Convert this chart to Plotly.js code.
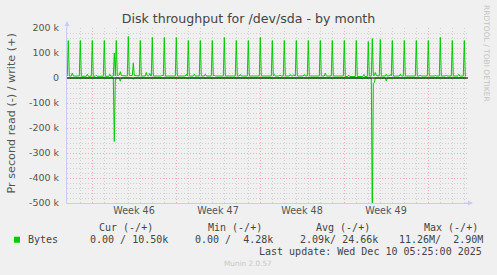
<!DOCTYPE html>
<html>
<head>
<meta charset="utf-8">
<script src="https://cdn.plot.ly/plotly-3.0.1.min.js"></script>
<style>
html,body{margin:0;padding:0;background:#F0F0F0;}
#chart{width:497px;height:275px;}
</style>
</head>
<body>
<div id="chart"></div>
<script>
// ---- data (values in k = 1000 bytes/s) ----
const writePoints = [
 ['2025-11-06 22:36',8],['2025-11-07 00:36',150],['2025-11-07 02:36',8],['2025-11-07 06:36',8],['2025-11-07 08:36',20],['2025-11-07 10:36',8],['2025-11-07 22:36',8],
 ['2025-11-08 00:36',150],['2025-11-08 02:36',7],['2025-11-08 12:36',7],['2025-11-08 14:36',15],['2025-11-08 16:36',7],['2025-11-08 22:36',7],
 ['2025-11-09 00:36',150],['2025-11-09 02:36',7],['2025-11-09 06:36',7],['2025-11-09 08:36',11],['2025-11-09 10:36',7],['2025-11-09 22:36',7],
 ['2025-11-10 00:36',150],['2025-11-10 02:36',7],['2025-11-10 09:36',7],['2025-11-10 11:36',15],['2025-11-10 13:36',7],['2025-11-10 18:36',8],['2025-11-10 20:36',100],['2025-11-10 22:36',8],
 ['2025-11-11 00:36',150],['2025-11-11 02:36',10],['2025-11-11 06:36',12],['2025-11-11 08:36',25],['2025-11-11 10:36',10],['2025-11-11 22:36',8],
 ['2025-11-12 00:36',166],['2025-11-12 02:36',10],['2025-11-12 08:36',10],['2025-11-12 10:36',61],['2025-11-12 12:36',10],['2025-11-12 22:36',8],
 ['2025-11-13 00:36',150],['2025-11-13 02:36',8],['2025-11-13 10:36',8],['2025-11-13 12:36',22],['2025-11-13 14:36',9],['2025-11-13 17:36',9],['2025-11-13 19:36',18],['2025-11-13 21:36',8],['2025-11-13 22:36',8],
 ['2025-11-14 00:36',162],['2025-11-14 02:36',8],['2025-11-14 18:36',8],['2025-11-14 20:36',12],['2025-11-14 22:36',8],
 ['2025-11-15 00:36',162],['2025-11-15 02:36',8],['2025-11-15 22:36',8],
 ['2025-11-16 00:36',162],['2025-11-16 02:36',8],['2025-11-16 18:36',8],['2025-11-16 20:36',15],['2025-11-16 22:36',8],
 ['2025-11-17 00:36',150],['2025-11-17 02:36',8],['2025-11-17 10:36',8],['2025-11-17 12:36',15],['2025-11-17 14:36',8],['2025-11-17 22:36',8],
 ['2025-11-18 00:36',150],['2025-11-18 02:36',8],['2025-11-18 08:36',8],['2025-11-18 10:36',15],['2025-11-18 12:36',8],['2025-11-18 22:36',8],
 ['2025-11-19 00:36',150],['2025-11-19 02:36',8],['2025-11-19 04:36',12],['2025-11-19 06:36',8],['2025-11-19 22:36',8],
 ['2025-11-20 00:36',162],['2025-11-20 02:36',8],['2025-11-20 22:36',8],
 ['2025-11-21 00:36',150],['2025-11-21 02:36',8],['2025-11-21 06:36',8],['2025-11-21 08:36',14],['2025-11-21 10:36',8],['2025-11-21 22:36',8],
 ['2025-11-22 00:36',150],['2025-11-22 02:36',8],['2025-11-22 22:36',8],
 ['2025-11-23 00:36',162],['2025-11-23 02:36',8],['2025-11-23 22:36',8],
 ['2025-11-24 00:36',150],['2025-11-24 02:36',8],['2025-11-24 04:36',14],['2025-11-24 06:36',8],['2025-11-24 13:36',8],['2025-11-24 15:36',12],['2025-11-24 17:36',8],['2025-11-24 22:36',8],
 ['2025-11-25 00:36',150],['2025-11-25 02:36',8],['2025-11-25 10:36',8],['2025-11-25 12:36',14],['2025-11-25 14:36',8],['2025-11-25 17:36',8],['2025-11-25 19:36',14],['2025-11-25 21:36',8],['2025-11-25 22:36',8],
 ['2025-11-26 00:36',150],['2025-11-26 02:36',8],['2025-11-26 14:36',8],['2025-11-26 16:36',14],['2025-11-26 18:36',8],['2025-11-26 22:36',8],
 ['2025-11-27 00:36',150],['2025-11-27 02:36',8],['2025-11-27 22:36',8],
 ['2025-11-28 00:36',150],['2025-11-28 02:36',8],['2025-11-28 08:36',8],['2025-11-28 10:36',20],['2025-11-28 12:36',8],['2025-11-28 22:36',8],
 ['2025-11-29 00:36',150],['2025-11-29 02:36',8],['2025-11-29 22:36',8],
 ['2025-11-30 00:36',150],['2025-11-30 02:36',6],['2025-11-30 07:36',6],['2025-11-30 09:36',12],['2025-11-30 11:36',6],['2025-11-30 22:36',6],
 ['2025-12-01 00:36',150],['2025-12-01 02:36',6],['2025-12-01 13:36',6],['2025-12-01 15:36',14],['2025-12-01 17:36',6],['2025-12-01 22:36',6],
 ['2025-12-02 00:36',146],['2025-12-02 02:36',8],['2025-12-02 06:36',8],['2025-12-02 08:36',158],['2025-12-02 10:36',10],['2025-12-02 12:36',10],['2025-12-02 14:36',22],['2025-12-02 16:36',10],['2025-12-02 22:36',8],
 ['2025-12-03 00:36',154],['2025-12-03 02:36',8],['2025-12-03 10:36',8],['2025-12-03 12:36',15],['2025-12-03 14:36',8],['2025-12-03 18:36',9],['2025-12-03 20:36',14],['2025-12-03 22:36',8],
 ['2025-12-04 00:36',150],['2025-12-04 02:36',8],['2025-12-04 14:36',8],['2025-12-04 16:36',15],['2025-12-04 18:36',8],['2025-12-04 22:36',8],
 ['2025-12-05 00:36',150],['2025-12-05 02:36',8],['2025-12-05 22:36',8],
 ['2025-12-06 00:36',150],['2025-12-06 02:36',8],['2025-12-06 06:36',8],['2025-12-06 08:36',12],['2025-12-06 10:36',8],['2025-12-06 22:36',8],
 ['2025-12-07 00:36',150],['2025-12-07 02:36',8],['2025-12-07 12:36',8],['2025-12-07 14:36',10],['2025-12-07 16:36',8],['2025-12-07 22:36',8],
 ['2025-12-08 00:36',162],['2025-12-08 02:36',8],['2025-12-08 10:36',8],['2025-12-08 12:36',12],['2025-12-08 14:36',8],['2025-12-08 22:36',8],
 ['2025-12-09 00:36',150],['2025-12-09 02:36',8],['2025-12-09 11:36',8],['2025-12-09 13:36',15],['2025-12-09 15:36',8],['2025-12-09 22:36',8],
 ['2025-12-10 00:36',150],['2025-12-10 02:36',8],['2025-12-10 04:36',10.5]
];
// read is drawn negative (below zero)
const readPoints = [
 ['2025-11-06 22:36',0],['2025-11-10 18:36',0],['2025-11-10 20:36',-254],['2025-11-10 22:36',0],
 ['2025-11-11 06:36',0],['2025-11-11 08:36',-13],['2025-11-11 10:36',0],
 ['2025-11-12 08:36',0],['2025-11-12 10:36',-5],['2025-11-12 12:36',0],
 ['2025-12-01 10:36',0],['2025-12-01 12:36',-3],['2025-12-01 14:36',0],
 ['2025-12-02 06:36',0],['2025-12-02 08:36',-560],['2025-12-02 10:36',-22],['2025-12-02 12:36',-18],['2025-12-02 14:36',0],
 ['2025-12-03 10:36',0],['2025-12-03 12:36',-12],['2025-12-03 14:36',0],
 ['2025-12-10 04:36',0]
];
const weekStarts = ['2025-11-09','2025-11-16','2025-11-23','2025-11-30','2025-12-07'];
const weekLabelPos = ['2025-11-12 12:00','2025-11-19 12:00','2025-11-26 12:00','2025-12-03 12:00'];
const weekLabels = ['Week 46','Week 47','Week 48','Week 49'];
const yTickVals = [200000,100000,0,-100000,-200000,-300000,-400000,-500000];
const yTickText = ['200 k','100 k','0','-100 k','-200 k','-300 k','-400 k','-500 k'];
const seriesName = 'Bytes';
const statHeaders = ['Cur (-/+)','Min (-/+)','Avg (-/+)','Max (-/+)'];
const statValues = ['0.00 / 10.50k','0.00 /  4.28k','2.09k/ 24.66k','11.26M/  2.90M'];
const lastUpdate = 'Last update: Wed Dec 10 05:25:00 2025';

// ---- layout helpers (pixel -> paper) ----
const L=67, R=468, T=28, B=203;
const px = x => (x-L)/(R-L);
const py = y => (B-y)/(B-T);
const GREEN='#00CC00', TXT='#555555';
const MONO='DejaVu Sans Mono', SANS='DejaVu Sans';
const nb = s => s.replace(/ /g,'\u00A0');
const txt = (text,x,y,o={}) => Object.assign({text:nb(text),xref:'paper',yref:'paper',x:px(x),y:py(y),showarrow:false,xanchor:'left',yanchor:'middle',borderpad:0,font:{family:MONO,size:10,color:'#444'}},o);

const range = ['2025-11-06 22:00','2025-12-10 08:00'];
const traces = [
 {x:writePoints.map(p=>p[0]), y:writePoints.map(p=>p[1]*1000), type:'scatter', mode:'lines', line:{color:GREEN,width:1}, xaxis:'x', yaxis:'y', hoverinfo:'skip'},
 {x:readPoints.map(p=>p[0]), y:readPoints.map(p=>p[1]*1000), type:'scatter', mode:'lines', line:{color:GREEN,width:1}, xaxis:'x2', yaxis:'y', hoverinfo:'skip'}
];

const headerX=[98,207,315,423], valueX=[89,194,299,398];
const annotations = [];
statHeaders.forEach((h,i)=>annotations.push(txt(h,headerX[i],227)));
annotations.push(txt(seriesName,26.7,239.7));
statValues.forEach((v,i)=>annotations.push(txt(v,valueX[i],239.7)));
annotations.push(txt(lastUpdate,483,251.7,{xanchor:'right'}));
annotations.push(txt('Munin 2.0.57',248,263.7,{xanchor:'center',font:{family:SANS,size:7.3,color:'#C8C8C8'}}));
annotations.push(txt('RRDTOOL / TOBI OETIKER',487,53,{xanchor:'center',textangle:90,font:{family:SANS,size:7.5,color:'#C4C4C4'}}));
annotations.push(txt('Pr second read (-) / write (+)',10.5,114,{xanchor:'center',textangle:-90,font:{family:SANS,size:11.2,color:TXT}}));
// axis arrows
annotations.push({xref:'paper',yref:'paper',x:0,y:py(21),ax:0,ay:9,text:'',showarrow:true,arrowhead:2,arrowsize:1,arrowwidth:1,arrowcolor:'#C8CCF0',standoff:0});
annotations.push({xref:'paper',yref:'paper',x:px(473),y:0,ax:-9,ay:0,text:'',showarrow:true,arrowhead:2,arrowsize:1,arrowwidth:1,arrowcolor:'#C8CCF0',standoff:0});

const MAJ='#E8B0B0', MIN='#D0D0D0', DASH='1px,2px', AX='#C8CCF0';
const layout = {
 width:497, height:275,
 margin:{l:L, r:497-R, t:T, b:275-B, pad:0},
 paper_bgcolor:'#F0F0F0', plot_bgcolor:'#F0F0F0',
 showlegend:false,
 title:{text:'Disk throughput for /dev/sda - by month', font:{family:SANS,size:12.6,color:'#444'}, x:0.5, xref:'container', xanchor:'center', y:1-19/275, yref:'container', yanchor:'middle'},
 xaxis:{type:'date', range:range, tickmode:'array', tickvals:weekStarts, showticklabels:false, ticks:'',
   showgrid:true, gridcolor:MAJ, griddash:DASH, gridwidth:1,
   minor:{dtick:86400000, tick0:'2025-11-09', showgrid:true, gridcolor:MIN, griddash:DASH, gridwidth:1, ticks:''},
   showline:true, linecolor:AX, linewidth:1, zeroline:false, fixedrange:true},
 xaxis2:{type:'date', range:range, overlaying:'x', anchor:'y', side:'bottom', tickmode:'array', tickvals:weekLabelPos, ticktext:weekLabels,
   showgrid:false, ticks:'', showline:false, zeroline:false, tickfont:{family:SANS,size:9.6,color:TXT}, fixedrange:true},
 yaxis:{range:[-500000,200000], tickmode:'array', tickvals:yTickVals, ticktext:yTickText, ticks:'',
   showgrid:true, gridcolor:MAJ, griddash:DASH, gridwidth:1,
   minor:{dtick:20000, tick0:0, showgrid:true, gridcolor:MIN, griddash:DASH, gridwidth:1, ticks:''},
   showline:true, linecolor:AX, linewidth:1, zeroline:false, tickfont:{family:SANS,size:9.5,color:TXT}, ticklabelstandoff:5, fixedrange:true},
 shapes:[
   {type:'line', xref:'paper', x0:0, x1:1, yref:'y', y0:0, y1:0, line:{color:'#000000',width:1}, layer:'above'},
   {type:'rect', xref:'paper', yref:'paper', x0:px(14), x1:px(20), y0:py(242.7), y1:py(236.7), fillcolor:GREEN, line:{width:0}}
 ],
 annotations:annotations
};
Plotly.newPlot('chart', traces, layout, {displayModeBar:false, staticPlot:true});
</script>
</body>
</html>
